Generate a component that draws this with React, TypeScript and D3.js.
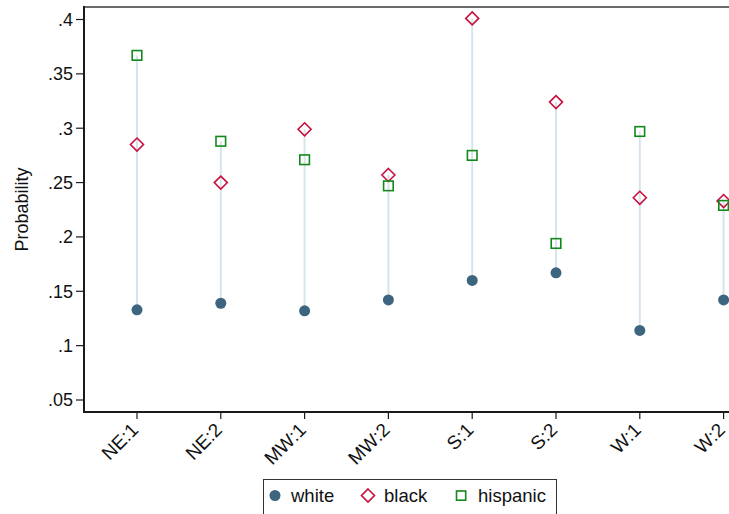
import React from "react";
import * as d3 from "d3";

// Region:division groups along the x axis
const categories = ["NE:1", "NE:2", "MW:1", "MW:2", "S:1", "S:2", "W:1", "W:2"];

// Predicted probabilities by race group
const white = [0.133, 0.139, 0.132, 0.142, 0.160, 0.167, 0.114, 0.142];
const black = [0.285, 0.250, 0.299, 0.257, 0.401, 0.324, 0.236, 0.233];
const hispanic = [0.367, 0.288, 0.271, 0.247, 0.275, 0.194, 0.297, 0.229];

const yTicks = [0.05, 0.1, 0.15, 0.2, 0.25, 0.3, 0.35, 0.4];
const yTickLabels = [".05", ".1", ".15", ".2", ".25", ".3", ".35", ".4"];

const W = 729;
const H = 514;
const FONT = "Arial, 'Liberation Sans', Helvetica, sans-serif";

const COL_WHITE = "#3e6580";
const COL_BLACK = "#c8103e";
const COL_HISP = "#13891b";
const COL_SPIKE = "#d8e4eb";

export default function App() {
  const left = 84;
  const top = 7;
  const bottom = 412;

  const x = d3.scalePoint<string>().domain(categories).range([137, 723.6]);
  const y = d3.scaleLinear().domain([0.05, 0.4]).range([400, 19.5]);

  const diamond = (cx: number, cy: number, r: number) =>
    `M${cx},${cy - r}L${cx + r},${cy}L${cx},${cy + r}L${cx - r},${cy}Z`;

  return (
    <svg
      width={W}
      height={H}
      style={{ position: "fixed", left: 0, top: 0, background: "#fff" }}
      fontFamily={FONT}
    >
      <rect x={0} y={0} width={W} height={H} fill="#fff" />

      {/* top border of the plot region */}
      <line x1={left} x2={W} y1={top} y2={top} stroke="#6a6a6a" strokeWidth={2} />

      {/* spikes from min to max */}
      {categories.map((c, i) => {
        const vals = [white[i], black[i], hispanic[i]];
        return (
          <line
            key={"s" + c}
            x1={x(c)}
            x2={x(c)}
            y1={y(d3.min(vals)!)}
            y2={y(d3.max(vals)!)}
            stroke={COL_SPIKE}
            strokeWidth={2}
          />
        );
      })}

      {/* white: filled circles */}
      {categories.map((c, i) => (
        <circle key={"w" + c} cx={x(c)} cy={y(white[i])} r={5.5} fill={COL_WHITE} />
      ))}

      {/* black: hollow diamonds */}
      {categories.map((c, i) => (
        <path
          key={"b" + c}
          d={diamond(x(c)!, y(black[i]), 6.5)}
          fill="none"
          stroke={COL_BLACK}
          strokeWidth={1.6}
        />
      ))}

      {/* hispanic: hollow squares */}
      {categories.map((c, i) => (
        <rect
          key={"h" + c}
          x={x(c)! - 4.8}
          y={y(hispanic[i]) - 4.8}
          width={9.6}
          height={9.6}
          fill="none"
          stroke={COL_HISP}
          strokeWidth={1.6}
        />
      ))}

      {/* y axis */}
      <line x1={left} x2={left} y1={top - 1} y2={bottom + 1} stroke="#1a1a1a" strokeWidth={2} />
      {yTicks.map((t, i) => (
        <g key={"yt" + t}>
          <line x1={left - 8} x2={left} y1={y(t)} y2={y(t)} stroke="#1a1a1a" strokeWidth={1.2} />
          <text
            x={left - 11}
            y={y(t)}
            dy="0.35em"
            textAnchor="end"
            fontSize={18}
            fill="#111"
          >
            {yTickLabels[i]}
          </text>
        </g>
      ))}
      <text
        transform={`translate(28,${(top + bottom) / 2}) rotate(-90)`}
        textAnchor="middle"
        fontSize={18}
        fill="#111"
      >
        Probability
      </text>

      {/* x axis */}
      <line x1={left - 1} x2={W} y1={bottom} y2={bottom} stroke="#1a1a1a" strokeWidth={2} />
      {categories.map((c) => (
        <g key={"xt" + c}>
          <line x1={x(c)} x2={x(c)} y1={bottom} y2={bottom + 7} stroke="#1a1a1a" strokeWidth={1.2} />
          <text
            transform={`translate(${x(c)! + 2.5},${bottom + 19}) rotate(-45)`}
            textAnchor="end"
            fontSize={19}
            fill="#111"
          >
            {c}
          </text>
        </g>
      ))}

      {/* legend */}
      <rect x={263.5} y={479.5} width={293} height={40} fill="#fff" stroke="#333" strokeWidth={1} />
      <circle cx={275} cy={495.5} r={5.5} fill={COL_WHITE} />
      <text x={291} y={501.5} fontSize={18.5} fill="#111">white</text>
      <path d={diamond(368, 495.5, 6.5)} fill="none" stroke={COL_BLACK} strokeWidth={1.6} />
      <text x={384} y={501.5} fontSize={18.5} fill="#111">black</text>
      <rect x={456.5} y={491} width={9.2} height={9.2} fill="none" stroke={COL_HISP} strokeWidth={1.6} />
      <text x={478} y={501.5} fontSize={18.5} fill="#111">hispanic</text>
    </svg>
  );
}
